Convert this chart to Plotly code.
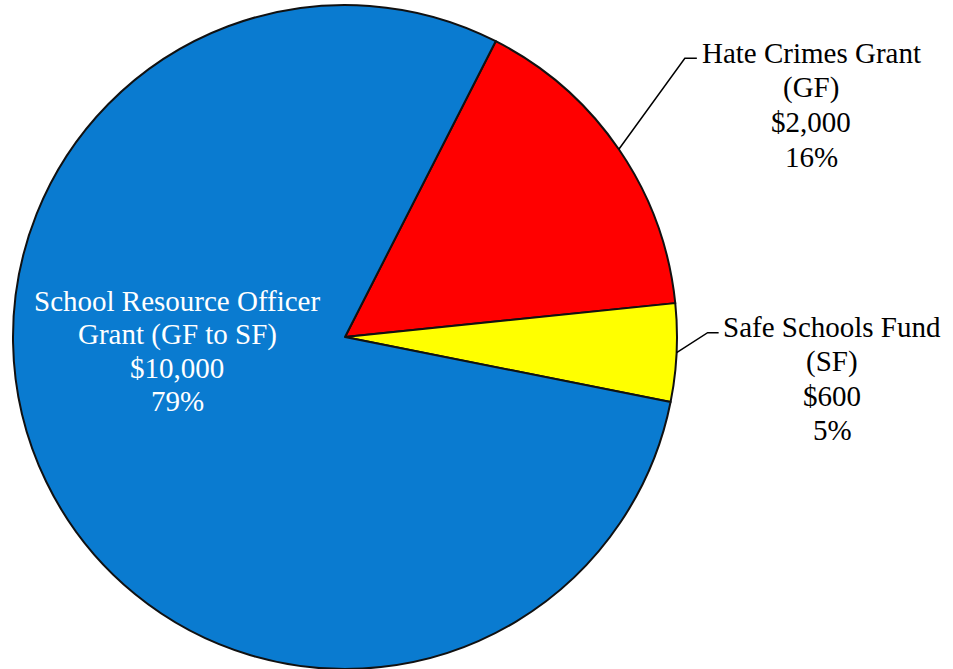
import math
import plotly.graph_objects as go

# Grant funding split
labels = ["Hate Crimes Grant (GF)", "Safe Schools Fund (SF)", "School Resource Officer Grant (GF to SF)"]
label_lines = [
    ["Hate Crimes Grant", "(GF)"],
    ["Safe Schools Fund", "(SF)"],
    ["School Resource Officer", "Grant (GF to SF)"],
]
amounts = [2000, 600, 10000]
colors = ["#FF0000", "#FFFF00", "#0A7BD0"]

W, H = 953, 669
ROTATION = 27  # degrees clockwise from 12 o'clock where the first slice starts

# pie placement in pixels (from top-left)
cx_px, cy_px, r_px = 345, 337, 332
dom_x = [(cx_px - r_px) / W, (cx_px + r_px) / W]
dom_y = [(H - cy_px - r_px) / H, (H - cy_px + r_px) / H]


def px_to_paper(x, y):
    return x / W, 1 - y / H


total = sum(amounts)
fracs = [a / total for a in amounts]

fig = go.Figure(
    go.Pie(
        labels=labels,
        values=amounts,
        sort=False,
        direction="clockwise",
        rotation=ROTATION,
        marker=dict(colors=colors, line=dict(color="#111111", width=2)),
        textinfo="none",
        hoverinfo="label+value+percent",
        domain=dict(x=dom_x, y=dom_y),
        showlegend=False,
    )
)

FONT_SIZE = 29
font = dict(family="Liberation Serif, Times New Roman, serif", size=FONT_SIZE, color="black")

# mid-angle of each slice (clockwise from top)
mids = []
start = ROTATION
for f in fracs:
    sweep = f * 360
    mids.append(start + sweep / 2)
    start += sweep

shapes = []
annotations = []


def add_label(i, center_x, first_line_y, step, color):
    """Stack the label lines of slice i, one annotation per line."""
    lines = label_lines[i] + [f"${amounts[i]:,}", f"{round(fracs[i] * 100)}%"]
    for k, line in enumerate(lines):
        lx, ly = px_to_paper(center_x, first_line_y + k * step - 0.6 * FONT_SIZE)
        annotations.append(dict(x=lx, y=ly, xref="paper", yref="paper", text=line,
                                showarrow=False, xanchor="center", yanchor="top",
                                align="center", font=dict(font, color=color)))


# leader lines for the outside labels: elbow offset and tail length
leaders = {
    0: dict(elbow=(66, -91), tail=12),
    1: dict(elbow=(31, -20), tail=11),
}
for i, cfg in leaders.items():
    a = math.radians(mids[i])
    ex = cx_px + r_px * math.sin(a)
    ey = cy_px - r_px * math.cos(a)
    bx = ex + cfg["elbow"][0]
    by = ey + cfg["elbow"][1]
    tx = bx + cfg["tail"]
    pts = [px_to_paper(ex, ey), px_to_paper(bx, by), px_to_paper(tx, by)]
    path = "M {} {} L {} {} L {} {}".format(*[c for p in pts for c in p])
    shapes.append(dict(type="path", path=path, xref="paper", yref="paper",
                       line=dict(color="black", width=1.5)))

add_label(0, 811, 52, 34.7, "black")
add_label(1, 832, 326, 34.5, "black")
add_label(2, 177, 300, 33.5, "white")

fig.update_layout(
    width=W, height=H,
    margin=dict(l=0, r=0, t=0, b=0),
    paper_bgcolor="white",
    plot_bgcolor="white",
    shapes=shapes,
    annotations=annotations,
)

fig.write_html("out.html")
